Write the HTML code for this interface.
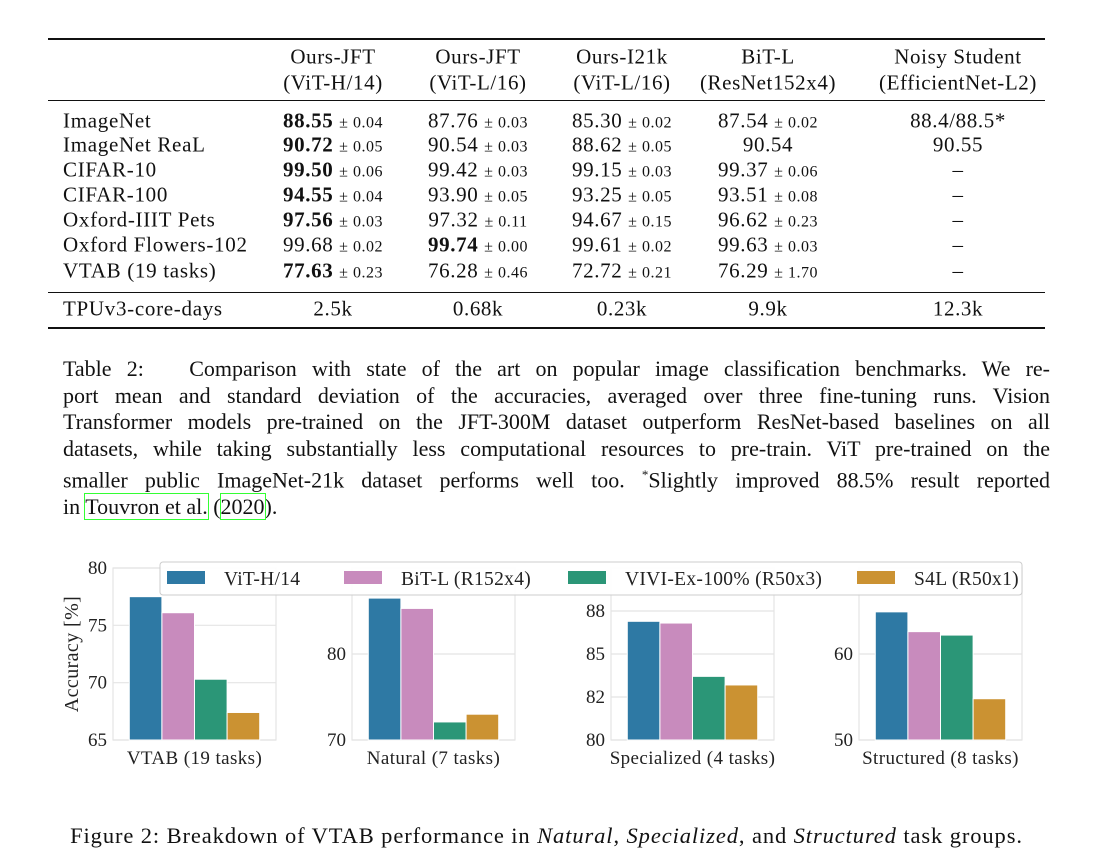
<!DOCTYPE html>
<html><head><meta charset="utf-8">
<style>
body{margin:0;background:#fff;width:1093px;height:868px;overflow:hidden;position:relative;font-family:"Liberation Serif",serif;color:#111}
.c{position:absolute;font-size:21px;letter-spacing:0.6px;white-space:nowrap;transform:translate(-50%,-50%)}
.l{position:absolute;font-size:21px;letter-spacing:0.7px;white-space:nowrap;transform:translateY(-50%)}
.pm{font-size:16px;letter-spacing:0.5px}
.rule{position:absolute;left:48px;width:997px;background:#111}
.cap{position:absolute;left:63px;width:987px;font-size:22px;line-height:26.5px;text-align:justify;top:356px}
.cap span.j{display:block;text-align:justify;text-align-last:justify}
.link{outline:1.5px solid #3f3;outline-offset:0}
</style></head><body>
<div>
<div class="rule" style="top:38px;height:2px"></div>
<div class="rule" style="top:100px;height:1px"></div>
<div class="rule" style="top:292px;height:1px"></div>
<div class="rule" style="top:327px;height:2px"></div>
<div id="tbl"></div>
</div>
<div class="cap"><span class="j">Table 2: &nbsp; Comparison with state of the art on popular image classification benchmarks. We re-</span><span class="j">port mean and standard deviation of the accuracies, averaged over three fine-tuning runs. Vision</span><span class="j">Transformer models pre-trained on the JFT-300M dataset outperform ResNet-based baselines on all</span><span class="j">datasets, while taking substantially less computational resources to pre-train. ViT pre-trained on the</span><span class="j">smaller public ImageNet-21k dataset performs well too. <sup style="font-size:13px">*</sup>Slightly improved 88.5% result reported</span><span>in <span class="link">Touvron et al.</span> (<span class="link">2020</span>).</span></div>

<svg id="chart" width="1093" height="868" style="position:absolute;left:0;top:0"></svg>
<div style="position:absolute;top:836px;left:0;width:1093px;text-align:center;font-size:22.5px;letter-spacing:0.9px;transform:translateY(-50%)">Figure 2: Breakdown of VTAB performance in <i>Natural</i>, <i>Specialized</i>, and <i>Structured</i> task groups.</div>

<script>
// table
const colX=[333,478,622,768,958];
const heads=[["Ours-JFT","(ViT-H/14)"],["Ours-JFT","(ViT-L/16)"],["Ours-I21k","(ViT-L/16)"],["BiT-L","(ResNet152x4)"],["Noisy Student","(EfficientNet-L2)"]];
const rowNames=["ImageNet","ImageNet ReaL","CIFAR-10","CIFAR-100","Oxford-IIIT Pets","Oxford Flowers-102","VTAB (19 tasks)"];
const rows=[
[["88.55","0.04",1],["87.76","0.03"],["85.30","0.02"],["87.54","0.02"],["88.4/88.5*"]],
[["90.72","0.05",1],["90.54","0.03"],["88.62","0.05"],["90.54"],["90.55"]],
[["99.50","0.06",1],["99.42","0.03"],["99.15","0.03"],["99.37","0.06"],["–"]],
[["94.55","0.04",1],["93.90","0.05"],["93.25","0.05"],["93.51","0.08"],["–"]],
[["97.56","0.03",1],["97.32","0.11"],["94.67","0.15"],["96.62","0.23"],["–"]],
[["99.68","0.02"],["99.74","0.00",1],["99.61","0.02"],["99.63","0.03"],["–"]],
[["77.63","0.23",1],["76.28","0.46"],["72.72","0.21"],["76.29","1.70"],["–"]]];
const rowY=[121,145,170,195,220,245,271];
const tpu=["2.5k","0.68k","0.23k","9.9k","12.3k"];
const T=document.getElementById('tbl');
function add(cls,x,y,html,name){const d=document.createElement('div');d.className=cls;d.style.left=x+'px';d.style.top=y+'px';d.innerHTML=html;


T.appendChild(d);}
heads.forEach((h,i)=>{add('c',colX[i],57,h[0],'column-header');add('c',colX[i],83,h[1],'column-subheader');});
rowNames.forEach((r,i)=>add('l',63,rowY[i],r,'row-label'));
rows.forEach((r,i)=>r.forEach((v,j)=>{let s=v[2]?'<b>'+v[0]+'</b>':v[0];if(v[1])s+=' <span class="pm">± '+v[1]+'</span>';add('c',colX[j],rowY[i],s,'table-cell');}));
add('l',63,309,'TPUv3-core-days','row-label');
tpu.forEach((v,j)=>add('c',colX[j],309,v,'table-cell'));

// chart data
const groups=["VTAB (19 tasks)","Natural (7 tasks)","Specialized (4 tasks)","Structured (8 tasks)"];
const series=["ViT-H/14","BiT-L (R152x4)","VIVI-Ex-100% (R50x3)","S4L (R50x1)"];
const vitVals=[77.5,86.5,86.9,64.9];
const bitVals=[76.1,85.3,86.8,62.6];
const viviVals=[70.3,72.1,83.7,62.2];
const s4lVals=[67.4,73.0,83.2,54.8];
const yMins=[65,70,80,50];
const yMaxs=[80,90,90,70];
const tickVals=[[65,70,75,80],[70,80],[80,82.5,85,87.5],[50,60]];
const tickLabels=[["65","70","75","80"],["70","80"],["80","82","85","88"],["50","60"]];
const colors=["#2e79a4","#c88bbd","#2b9677","#cb9232"];
const axL=[113,352,611,859], axW=163, axTop=568, axBot=740;
const svg=document.getElementById('chart');const NS='http://www.w3.org/2000/svg';
function el(t,a,p){const e=document.createElementNS(NS,t);for(const k in a)e.setAttribute(k,a[k]);(p||svg).appendChild(e);return e;}
const vals=[vitVals,bitVals,viviVals,s4lVals];
groups.forEach((g,gi)=>{
  const gEl=el('g',{});
  
  
  const y=v=>axBot-(v-yMins[gi])/(yMaxs[gi]-yMins[gi])*(axBot-axTop);
  const x0=axL[gi];
  tickVals[gi].forEach((t,ti)=>{
    const ln=el('line',{x1:x0,x2:x0+axW,y1:y(t),y2:y(t),stroke:'#e4e4e4','stroke-width':1.2},gEl);
    
    
    const tx=el('text',{x:x0-6,y:y(t)+6,'text-anchor':'end','font-size':19,'font-family':'Liberation Serif, serif',fill:'#222'},gEl);
    tx.textContent=tickLabels[gi][ti];
    
    
  });
  const fr=el('rect',{x:x0,y:axTop,width:axW,height:axBot-axTop,fill:'none',stroke:'#e4e4e4','stroke-width':1.2},gEl);
  
  
  const bw=axW*0.8/4;
  series.forEach((s,si)=>{
    const v=vals[si][gi];
    const r=el('rect',{x:x0+axW*0.1+si*bw,y:y(v),width:bw,height:axBot-y(v),fill:colors[si],stroke:'#fff','stroke-width':1},gEl);
    
    
  });
  const xl=el('text',{x:x0+axW/2,y:764,'text-anchor':'middle','font-size':19,'letter-spacing':0.4,'font-family':'Liberation Serif, serif',fill:'#222'},gEl);
  xl.textContent=g;
  
  
});
const yt=el('text',{x:0,y:0,'text-anchor':'middle','font-size':20,'letter-spacing':0.4,'font-family':'Liberation Serif, serif',fill:'#222',transform:'translate(78,654) rotate(-90)'});
yt.textContent='Accuracy [%]';


// legend
const lg=el('g',{});


el('rect',{x:160,y:562,width:862,height:33,rx:3,fill:'rgba(255,255,255,0.92)',stroke:'#ccc','stroke-width':1},lg);
const lx=[167,344,568,857];
series.forEach((s,si)=>{
  const e=el('g',{},lg);
  
  
  el('rect',{x:lx[si],y:571,width:38,height:13,fill:colors[si]},e);
  const t=el('text',{x:lx[si]+57,y:585,'font-size':19.5,'letter-spacing':0.3,'font-family':'Liberation Serif, serif',fill:'#222'},e);
  t.textContent=s;
});
</script>
</body></html>
